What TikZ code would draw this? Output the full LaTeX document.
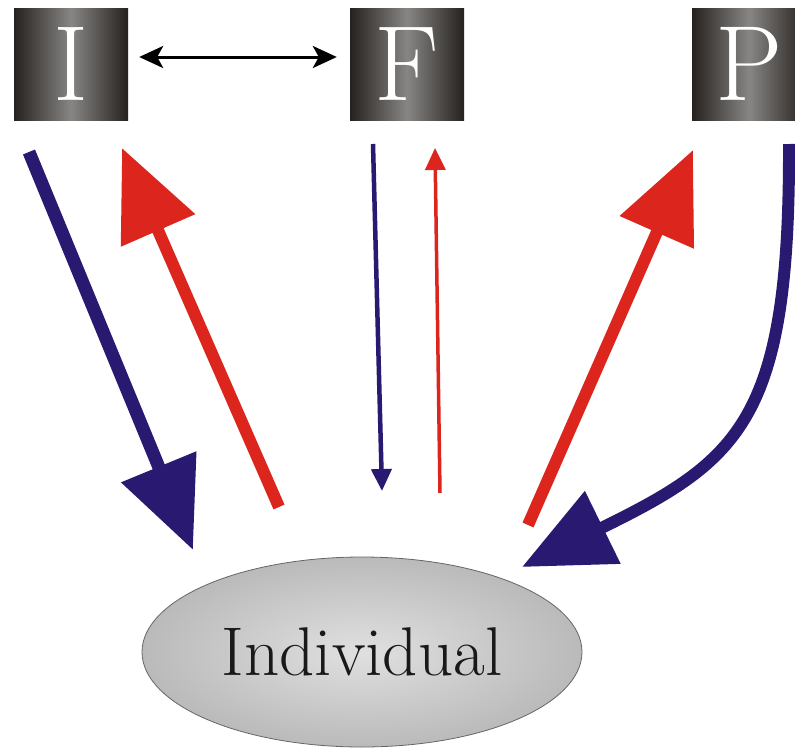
\documentclass[tikz,border=0pt]{standalone}
\usepackage{fontspec}
\usetikzlibrary{arrows.meta,shapes.geometric}

\definecolor{flowblue}{RGB}{42,25,112}
\definecolor{flowred}{RGB}{220,37,29}
\definecolor{boxdark}{RGB}{36,33,31}
\definecolor{boxlight}{RGB}{136,134,132}
\definecolor{ovalin}{RGB}{224,224,224}
\definecolor{ovalout}{RGB}{186,186,186}

\tikzset{
  letterbox/.style={rectangle, minimum width=114pt, minimum height=112pt,
    inner sep=0pt, left color=boxdark, right color=boxdark, middle color=boxlight,
    text=white, font=\fontsize{107}{107}\selectfont},
  oval/.style={ellipse, minimum width=440pt, minimum height=190pt, inner sep=0pt,
    draw=black!60, line width=0.8pt, shading=radial, inner color=ovalin,
    outer color=ovalout, font=\fontsize{69}{69}\selectfont, text=black!90},
  bigflow/.style={line width=13pt, -{Triangle[length=90pt,width=78pt]}},
  thinflow/.style={-{Triangle[length=22pt,width=20pt]}},
  link/.style={line width=3pt, {Stealth[length=24pt,width=22pt,inset=6pt]}-{Stealth[length=24pt,width=22pt,inset=6pt]}}
}

\begin{document}
\begin{tikzpicture}[x=1pt,y=-1pt]
  \useasboundingbox (0,0) rectangle (795,747);

  % the three source boxes and the individual
  \node[letterbox] (I) at (71,64) {I};
  \node[letterbox] (F) at (407,64) {F};
  \node[letterbox] (P) at (749,64) {P};
  \node[oval] (ind) at (362,652) {Individual};

  % end points of the flows
  \coordinate (iout) at (29,152);
  \coordinate (iin) at (193,550);
  \coordinate (ibk0) at (279,507);
  \coordinate (ibk1) at (122,148);
  \coordinate (fout) at (373,144);
  \coordinate (fin) at (382,491);
  \coordinate (fbk0) at (440,493);
  \coordinate (fbk1) at (435,148);
  \coordinate (pbk0) at (528,525);
  \coordinate (pbk1) at (693,150);
  \coordinate (pout) at (789,144);
  \coordinate (pin) at (522,567);

  % link between I and F
  \draw[link] ([yshift=7pt]I.east) -- ([yshift=7pt]F.west)
    [shorten <=11pt, shorten >=13pt];

  % strong flows
  \draw[bigflow, flowblue] (iout) -- (iin);
  \draw[bigflow, flowred, line width=12pt] (ibk0) -- (ibk1);
  \draw[bigflow, flowred, line width=12pt] (pbk0) -- (pbk1);
  \draw[bigflow, flowblue, line width=12pt] (pout) .. controls (790,420) and (740,460) .. (pin);

  % weak flows
  \draw[thinflow, flowblue, line width=4.5pt] (fout) -- (fin);
  \draw[thinflow, flowred, line width=3.5pt] (fbk0) -- (fbk1);
\end{tikzpicture}
\end{document}
